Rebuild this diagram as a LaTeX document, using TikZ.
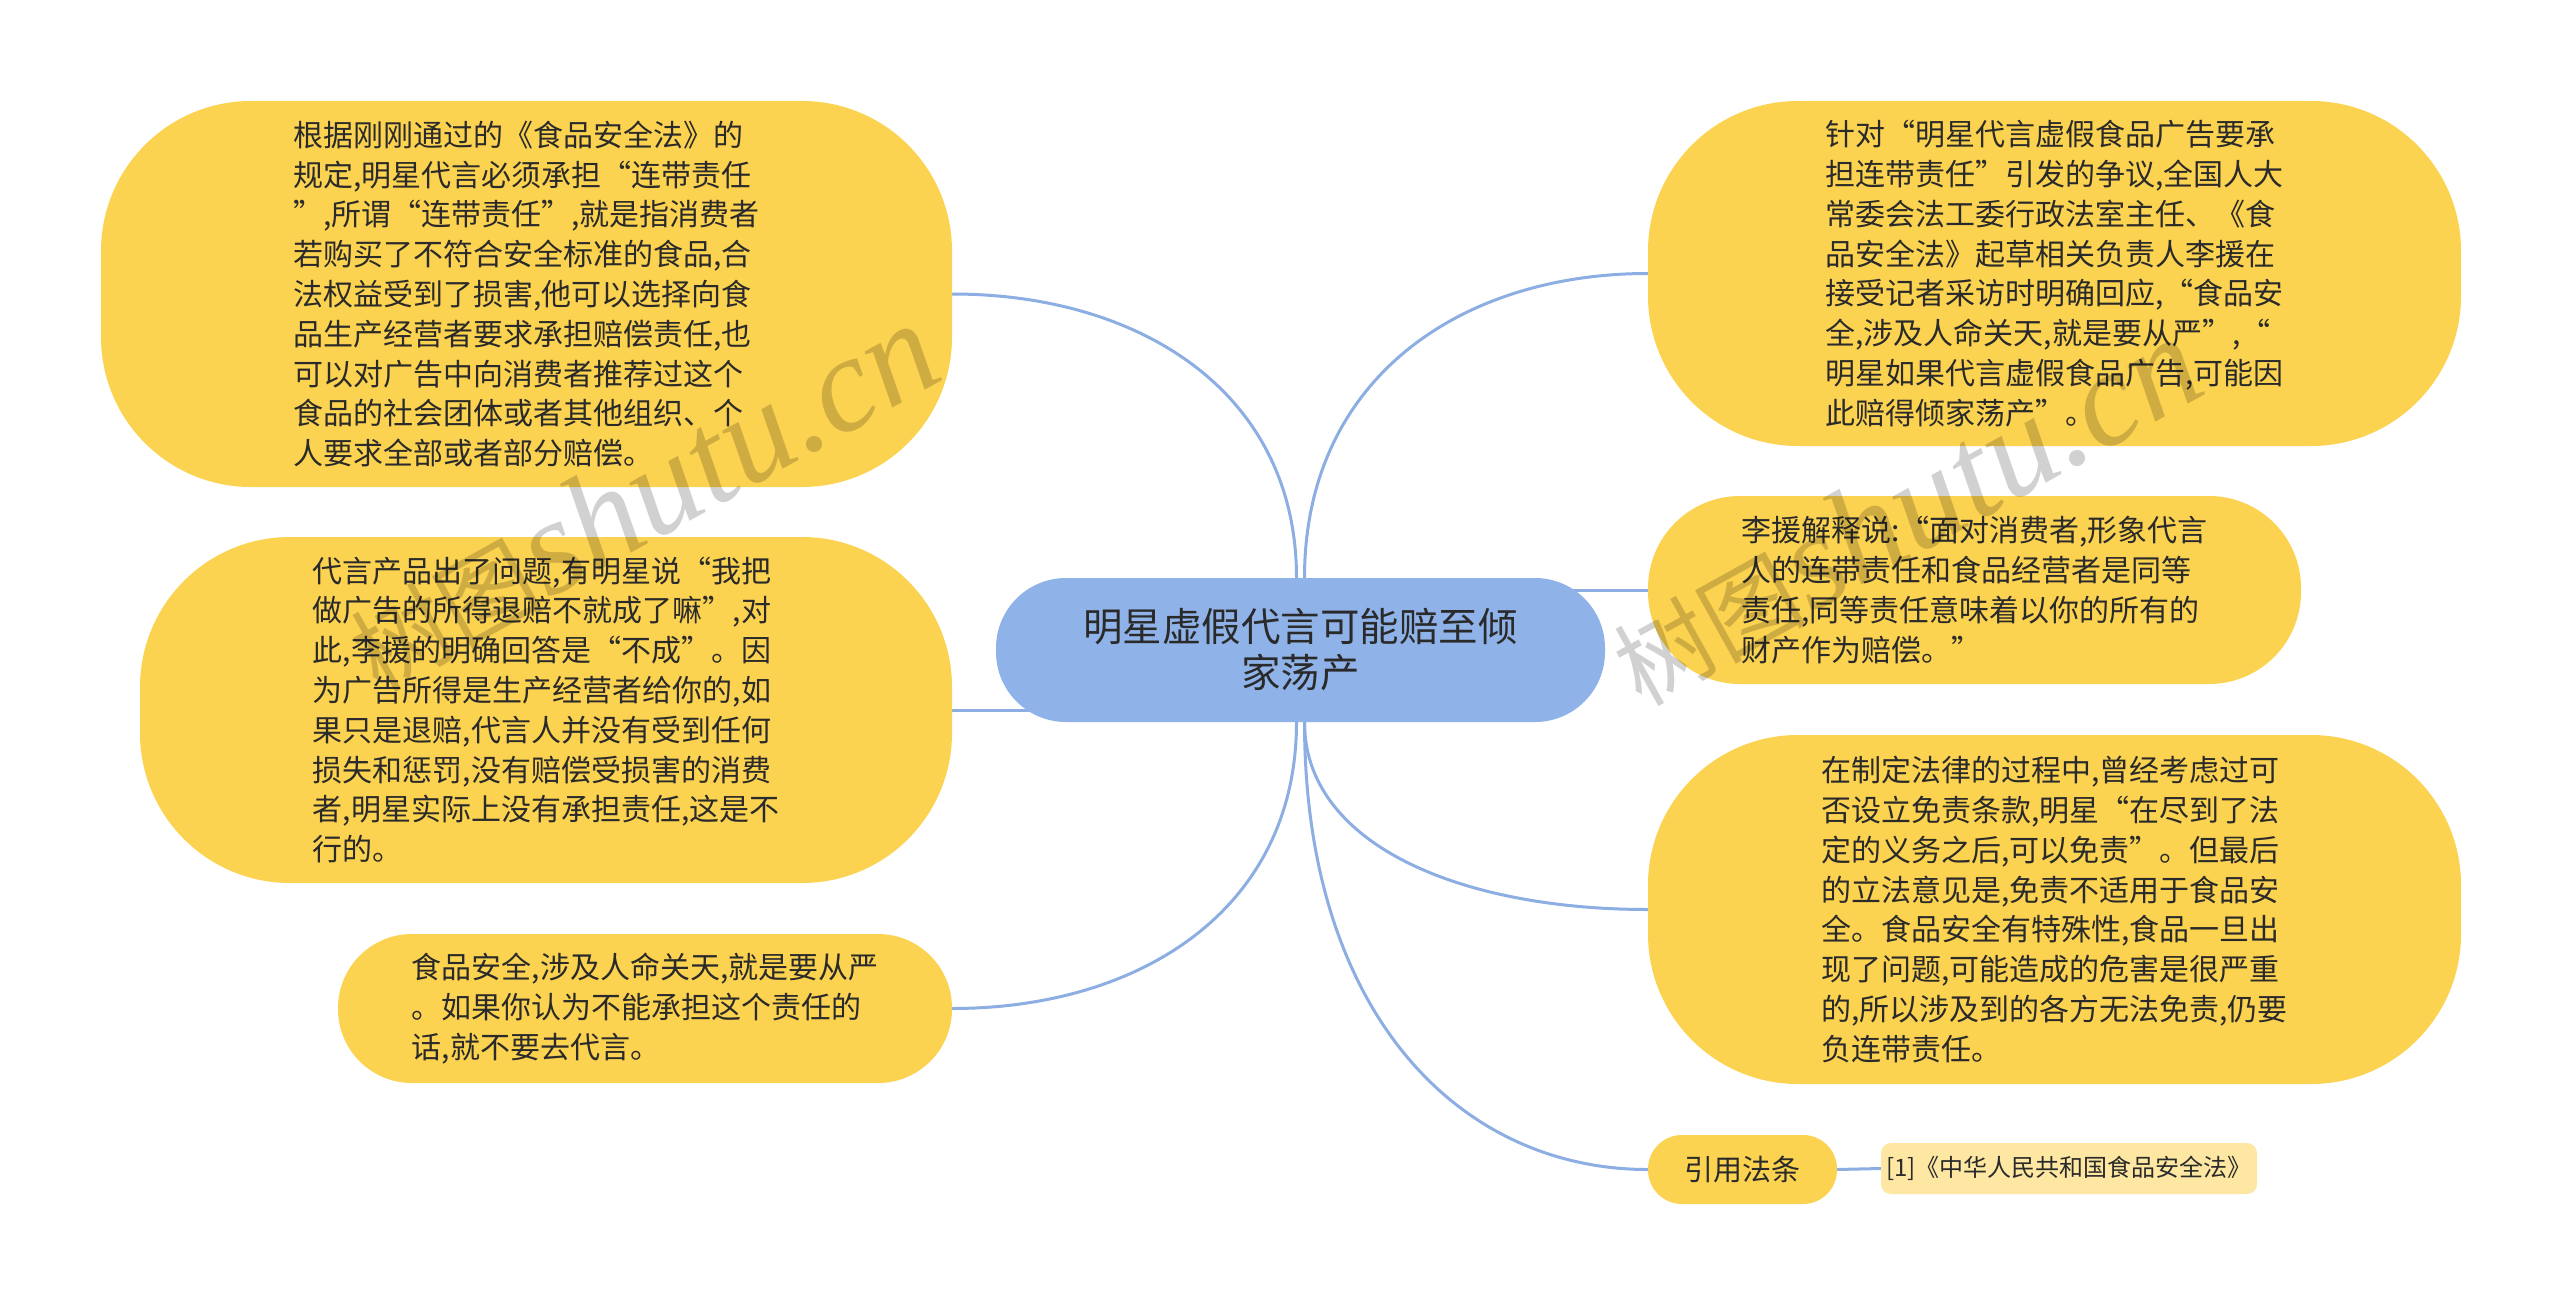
\documentclass[tikz,border=0pt]{standalone}
\usepackage{fontspec}
\setmainfont{Noto Sans CJK SC}
\newfontfamily\wmfont{Liberation Serif}
\usetikzlibrary{calc}
\pgfdeclarelayer{background}
\pgfsetlayers{background,main}
\definecolor{ybox}{HTML}{FCD350}
\definecolor{bbox}{HTML}{8FB3E8}
\definecolor{lbox}{HTML}{FDE7A2}
\definecolor{cline}{HTML}{8DAEE3}
\definecolor{ink}{HTML}{2A2A2A}
\tikzset{
  topic/.style={fill=ybox, draw=none, text=ink, align=left, inner sep=0pt,
    font=\fontsize{30pt}{39.8pt}\selectfont},
  rootnode/.style={fill=bbox, draw=none, text=ink, align=center, inner sep=0pt,
    rounded corners=70pt, minimum width=609pt, minimum height=144pt,
    font=\fontsize{39.5pt}{46pt}\selectfont},
  citenode/.style={fill=lbox, draw=none, text=ink, inner sep=0pt, rounded corners=10pt,
    minimum width=376pt, minimum height=51pt, font=\fontsize{24pt}{28pt}\selectfont},
  connline/.style={draw=cline, line width=3pt},
  branch/.style={to path={.. controls ($(\tikztostart)!0.65!(\tikztostart|-\tikztotarget)$) and ($(\tikztotarget)!0.55!(\tikztostart|-\tikztotarget)$) .. (\tikztotarget)}},
  wmark/.style={text=black, text opacity=0.18, rotate=29, inner sep=0pt}
}
\begin{document}
\begin{tikzpicture}[x=1pt,y=-1pt]
\useasboundingbox (0,0) rectangle (2560,1303);

% central topic
\node[rootnode] (c) at (1300.5,650) {明星虚假代言可能赔至倾\\家荡产};

% left branches
\node[topic, rounded corners=150pt, minimum width=851pt, minimum height=386pt] (L1) at (526.5,294) {根据刚刚通过的《食品安全法》的\\规定,明星代言必须承担“连带责任\\”,所谓“连带责任”,就是指消费者\\若购买了不符合安全标准的食品,合\\法权益受到了损害,他可以选择向食\\品生产经营者要求承担赔偿责任,也\\可以对广告中向消费者推荐过这个\\食品的社会团体或者其他组织、个\\人要求全部或者部分赔偿。};

\node[topic, rounded corners=150pt, minimum width=812pt, minimum height=346pt] (L2) at (546,710) {代言产品出了问题,有明星说“我把\\做广告的所得退赔不就成了嘛”,对\\此,李援的明确回答是“不成”。因\\为广告所得是生产经营者给你的,如\\果只是退赔,代言人并没有受到任何\\损失和惩罚,没有赔偿受损害的消费\\者,明星实际上没有承担责任,这是不\\行的。};

\node[topic, rounded corners=74pt, minimum width=614pt, minimum height=149pt] (L3) at (645,1008.5) {食品安全,涉及人命关天,就是要从严\\。如果你认为不能承担这个责任的\\话,就不要去代言。};

% right branches
\node[topic, rounded corners=150pt, minimum width=813pt, minimum height=345pt] (R1) at (2054.5,273.5) {针对“明星代言虚假食品广告要承\\担连带责任”引发的争议,全国人大\\常委会法工委行政法室主任、《食\\品安全法》起草相关负责人李援在\\接受记者采访时明确回应,“食品安\\全,涉及人命关天,就是要从严”,“\\明星如果代言虚假食品广告,可能因\\此赔得倾家荡产”。};

\node[topic, rounded corners=92pt, minimum width=653pt, minimum height=188pt] (R2) at (1974.5,590) {李援解释说:“面对消费者,形象代言\\人的连带责任和食品经营者是同等\\责任,同等责任意味着以你的所有的\\财产作为赔偿。”};

\node[topic, rounded corners=150pt, minimum width=813pt, minimum height=349pt] (R3) at (2054.5,909.5) {在制定法律的过程中,曾经考虑过可\\否设立免责条款,明星“在尽到了法\\定的义务之后,可以免责”。但最后\\的立法意见是,免责不适用于食品安\\全。食品安全有特殊性,食品一旦出\\现了问题,可能造成的危害是很严重\\的,所以涉及到的各方无法免责,仍要\\负连带责任。};

\node[topic, align=center, rounded corners=34pt, minimum width=189pt, minimum height=69pt, font=\fontsize{29pt}{34pt}\selectfont] (R4) at (1742.5,1169.5) {引用法条};

\node[citenode] (R5) at (2069,1168.5) {[1]《中华人民共和国食品安全法》};

% connector anchor points on the central topic
\coordinate (ctl) at ([xshift=-4pt]c.north);
\coordinate (ctr) at ([xshift=4pt]c.north);
\coordinate (cbl) at ([xshift=-4pt]c.south);
\coordinate (cbr) at ([xshift=4pt]c.south);

\begin{pgfonlayer}{background}
\fill[white] (0,0) rectangle (2560,1303);
\draw[connline] (ctl) to[branch] (L1.east);
\draw[connline] (ctr) to[branch] (R1.west);
\draw[connline] (cbl) to[branch] (L3.east);
\draw[connline] (cbr) to[branch] (R3.west);
\draw[connline] (cbr) to[branch] (R4.west);
\draw[connline] (L2.east) -- (c.center|-L2.east);
\draw[connline] (R2.west) -- (c.center|-R2.west);
\draw[connline] (R4.east) -- (R5.west);
\end{pgfonlayer}

% watermarks
\node[wmark] (wm1) at (642,498) {{\fontsize{96pt}{98pt}\selectfont 树图}\ {\wmfont\itshape\fontsize{136pt}{138pt}\selectfont shutu.cn}};
\node[wmark] (wm2) at (1905,512) {{\fontsize{96pt}{98pt}\selectfont 树图}\ {\wmfont\itshape\fontsize{136pt}{138pt}\selectfont shutu.cn}};
\end{tikzpicture}
\end{document}
